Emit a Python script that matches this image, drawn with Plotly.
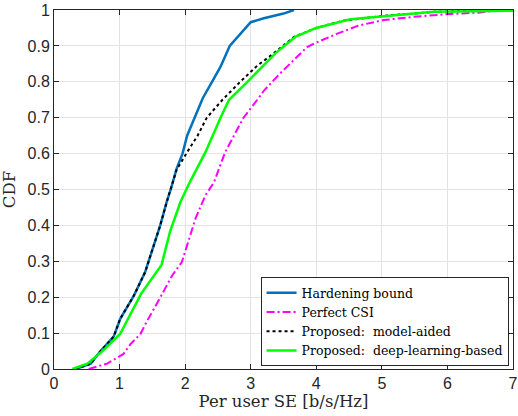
import plotly.graph_objects as go

hard_se = [0.33, 0.56, 0.71, 0.91, 1.01, 1.22, 1.39, 1.50, 1.62, 1.72, 1.78, 1.87, 1.96,
           2.03, 2.15, 2.27, 2.41, 2.54, 2.68, 2.82, 3.0, 3.2, 3.36, 3.5, 3.66]
hard_cdf = [0, 0.015, 0.05, 0.09, 0.14, 0.205, 0.27, 0.33, 0.40, 0.466, 0.50, 0.558, 0.60,
            0.65, 0.70, 0.755, 0.80, 0.842, 0.90, 0.93, 0.966, 0.977, 0.984, 0.99, 1.0]

perf_se = [0.53, 0.81, 1.06, 1.17, 1.32, 1.42, 1.62, 1.80, 1.95, 2.08, 2.16, 2.31, 2.44,
           2.61, 2.89, 3.1, 3.2, 3.43, 3.6, 3.86, 4.01, 4.32, 4.65, 5.03, 5.54, 6.04, 6.5, 6.8]
perf_cdf = [0, 0.015, 0.042, 0.07, 0.098, 0.134, 0.199, 0.26, 0.298, 0.37, 0.42, 0.484, 0.52,
            0.604, 0.70, 0.75, 0.775, 0.82, 0.851, 0.897, 0.91, 0.934, 0.957, 0.972, 0.982,
            0.989, 0.993, 1.0]

model_se = [0.33, 0.56, 0.71, 0.91, 1.01, 1.22, 1.39, 1.50, 1.62, 1.72, 1.78, 1.87, 2.03,
            2.19, 2.33, 2.57, 2.84, 3.1, 3.35, 3.66, 4.0, 4.4, 5.0, 5.8, 6.9]
model_cdf = [0, 0.015, 0.05, 0.09, 0.14, 0.205, 0.27, 0.33, 0.40, 0.466, 0.50, 0.555, 0.604,
             0.65, 0.70, 0.75, 0.80, 0.845, 0.879, 0.925, 0.95, 0.97, 0.983, 0.995, 1.0]

dl_se = [0.28, 0.51, 0.74, 1.01, 1.33, 1.64, 1.77, 1.93, 2.07, 2.31, 2.54, 2.67, 2.95,
         3.15, 3.38, 3.68, 4.0, 4.52, 5.03, 5.79, 7.0]
dl_cdf = [0, 0.015, 0.05, 0.098, 0.21, 0.29, 0.383, 0.466, 0.52, 0.604, 0.70, 0.75, 0.80,
          0.837, 0.88, 0.925, 0.95, 0.974, 0.983, 0.995, 0.998]

x_ticks = [0, 1, 2, 3, 4, 5, 6, 7]
y_ticks = [0, 0.1, 0.2, 0.3, 0.4, 0.5, 0.6, 0.7, 0.8, 0.9, 1]
y_labels = ["0", "0.1", "0.2", "0.3", "0.4", "0.5", "0.6", "0.7", "0.8", "0.9", "1"]

serif = "DejaVu Serif"

fig = go.Figure()
fig.add_trace(go.Scatter(x=hard_se, y=hard_cdf, mode="lines", name="Hardening bound",
                         line=dict(color="#0072BD", width=2.5)))
fig.add_trace(go.Scatter(x=perf_se, y=perf_cdf, mode="lines", name="Perfect CSI",
                         line=dict(color="#FF00FF", width=2, dash="8px,3px,2px,3px")))
fig.add_trace(go.Scatter(x=model_se, y=model_cdf, mode="lines", name="Proposed:\u00a0 model-aided",
                         line=dict(color="black", width=2, dash="dot")))
fig.add_trace(go.Scatter(x=dl_se, y=dl_cdf, mode="lines", name="Proposed:\u00a0 deep-learning-based",
                         line=dict(color="#00FF00", width=2.5)))

axis_common = dict(
    showline=True, linecolor="#262626", linewidth=1, mirror="allticks",
    ticks="inside", ticklen=5, tickcolor="#262626",
    showgrid=True, gridcolor="#e3e3e3", gridwidth=1, zeroline=False,
    automargin=False, ticklabeloverflow="allow",
    tickfont=dict(family="Liberation Sans, Arial", size=16, color="#262626"),
)

fig.update_xaxes(range=[0, 7], tickvals=x_ticks,
                 title=dict(text="Per user SE [b/s/Hz]", standoff=0,
                            font=dict(family=serif, size=16.5, color="#262626")),
                 **axis_common)
fig.update_yaxes(range=[0, 1], tickvals=y_ticks, ticktext=y_labels,
                 title=dict(text="CDF", standoff=8,
                            font=dict(family=serif, size=16.5, color="#262626")),
                 **axis_common)

fig.update_layout(
    width=518, height=416,
    margin=dict(l=54, r=5, t=10, b=47),
    plot_bgcolor="white", paper_bgcolor="white",
    legend=dict(x=0.45, y=0.008, xanchor="left", yanchor="bottom",
                bgcolor="white", bordercolor="#262626", borderwidth=1,
                font=dict(family=serif, size=12.5, color="black"),
                tracegroupgap=0, itemwidth=30),
    showlegend=True,
)

# drop the default page margin so the figure sits at the window's corner
fig.write_html("out.html", config={"displayModeBar": False},
               post_script="document.body.style.margin='0';")
